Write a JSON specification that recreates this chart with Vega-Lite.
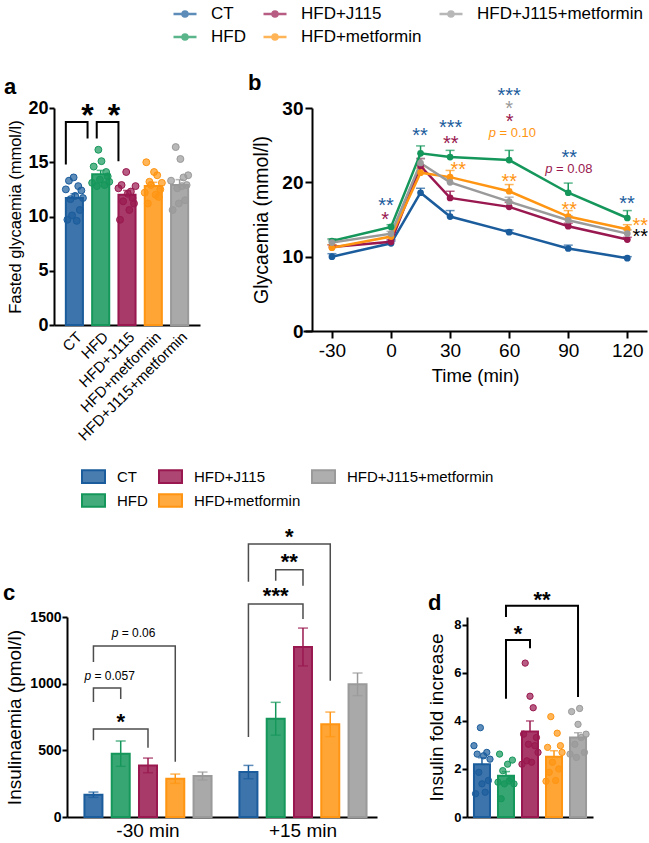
{
  "$schema": "https://vega.github.io/schema/vega-lite/v6.json",
  "padding": {"left": 3, "top": 1, "right": 1, "bottom": 1},
  "config": {
    "font": "Liberation Sans",
    "view": {"stroke": null},
    "axis": {"grid": false, "domainColor": "black", "domainWidth": 2, "tickColor": "black", "tickWidth": 2, "tickSize": 5, "labelPadding": 1, "labelColor": "black", "titleColor": "black", "labelFont": "Liberation Sans", "titleFont": "Liberation Sans", "titleFontWeight": "normal"},
    "legend": {"labelFont": "Liberation Sans", "labelColor": "black"},
    "title": {"fontSize": 22, "fontWeight": "bold", "anchor": "start", "color": "black", "font": "Liberation Sans", "frame": "group"}
  },
  "datasets": {
    "aBar": [
      {"g": "CT", "mean": 11.7, "hi": 12.1},
      {"g": "HFD", "mean": 13.9, "hi": 14.25},
      {"g": "HFD+J115", "mean": 12.0, "hi": 12.4},
      {"g": "HFD+metformin", "mean": 12.8, "hi": 13.15},
      {"g": "HFD+J115+metformin", "mean": 12.9, "hi": 13.4}
    ],
    "aDots": [
      {"g": "CT", "r": 1, "v": 12.5}, {"g": "CT", "r": 2, "v": 9.7}, {"g": "CT", "r": 3, "v": 13.3}, {"g": "CT", "r": 4, "v": 11.6}, {"g": "CT", "r": 5, "v": 10.1}, {"g": "CT", "r": 6, "v": 13.6}, {"g": "CT", "r": 7, "v": 11.9}, {"g": "CT", "r": 8, "v": 9.6}, {"g": "CT", "r": 9, "v": 12.8}, {"g": "CT", "r": 10, "v": 10.6}, {"g": "CT", "r": 11, "v": 12.4}, {"g": "CT", "r": 12, "v": 11.7},
      {"g": "HFD", "r": 1, "v": 13.1}, {"g": "HFD", "r": 2, "v": 14.6}, {"g": "HFD", "r": 4, "v": 12.8}, {"g": "HFD", "r": 5, "v": 16.15}, {"g": "HFD", "r": 6, "v": 13.4}, {"g": "HFD", "r": 7, "v": 15.1}, {"g": "HFD", "r": 9, "v": 12.9}, {"g": "HFD", "r": 10, "v": 14.1}, {"g": "HFD", "r": 11, "v": 13.7}, {"g": "HFD", "r": 12, "v": 13.2},
      {"g": "HFD+J115", "r": 1, "v": 12.6}, {"g": "HFD+J115", "r": 2, "v": 9.7}, {"g": "HFD+J115", "r": 3, "v": 12.9}, {"g": "HFD+J115", "r": 4, "v": 11.4}, {"g": "HFD+J115", "r": 6, "v": 14.1}, {"g": "HFD+J115", "r": 7, "v": 12.1}, {"g": "HFD+J115", "r": 8, "v": 10.6}, {"g": "HFD+J115", "r": 9, "v": 12.3}, {"g": "HFD+J115", "r": 10, "v": 11.7}, {"g": "HFD+J115", "r": 11, "v": 11.2}, {"g": "HFD+J115", "r": 12, "v": 12.8},
      {"g": "HFD+metformin", "r": 1, "v": 12.2}, {"g": "HFD+metformin", "r": 2, "v": 15.0}, {"g": "HFD+metformin", "r": 3, "v": 11.2}, {"g": "HFD+metformin", "r": 4, "v": 13.2}, {"g": "HFD+metformin", "r": 5, "v": 12.9}, {"g": "HFD+metformin", "r": 7, "v": 14.1}, {"g": "HFD+metformin", "r": 8, "v": 12.0}, {"g": "HFD+metformin", "r": 9, "v": 13.8}, {"g": "HFD+metformin", "r": 10, "v": 11.8}, {"g": "HFD+metformin", "r": 11, "v": 12.5}, {"g": "HFD+metformin", "r": 12, "v": 13.1},
      {"g": "HFD+J115+metformin", "r": 1, "v": 13.3}, {"g": "HFD+J115+metformin", "r": 2, "v": 10.6}, {"g": "HFD+J115+metformin", "r": 4, "v": 16.4}, {"g": "HFD+J115+metformin", "r": 5, "v": 12.6}, {"g": "HFD+J115+metformin", "r": 6, "v": 11.2}, {"g": "HFD+J115+metformin", "r": 7, "v": 15.3}, {"g": "HFD+J115+metformin", "r": 8, "v": 12.8}, {"g": "HFD+J115+metformin", "r": 9, "v": 13.6}, {"g": "HFD+J115+metformin", "r": 10, "v": 11.5}, {"g": "HFD+J115+metformin", "r": 11, "v": 12.9}, {"g": "HFD+J115+metformin", "r": 12, "v": 13.8}
    ],
    "bPts": [
      {"g": "CT", "t": -30, "v": 10.0, "hi": 10.4}, {"g": "CT", "t": 0, "v": 11.8, "hi": 12.1}, {"g": "CT", "t": 15, "v": 18.6, "hi": 19.2}, {"g": "CT", "t": 30, "v": 15.4, "hi": 16.2}, {"g": "CT", "t": 60, "v": 13.3, "hi": 13.6}, {"g": "CT", "t": 90, "v": 11.1, "hi": 11.55}, {"g": "CT", "t": 120, "v": 9.8, "hi": 10.0},
      {"g": "HFD", "t": -30, "v": 12.1, "hi": 12.4}, {"g": "HFD", "t": 0, "v": 14.0, "hi": 14.3}, {"g": "HFD", "t": 15, "v": 23.9, "hi": 24.9}, {"g": "HFD", "t": 30, "v": 23.4, "hi": 24.3}, {"g": "HFD", "t": 60, "v": 23.0, "hi": 24.3}, {"g": "HFD", "t": 90, "v": 18.6, "hi": 19.9}, {"g": "HFD", "t": 120, "v": 15.2, "hi": 16.2},
      {"g": "HFD+J115", "t": -30, "v": 11.3, "hi": 11.6}, {"g": "HFD+J115", "t": 0, "v": 12.0, "hi": 12.3}, {"g": "HFD+J115", "t": 15, "v": 22.2, "hi": 23.2}, {"g": "HFD+J115", "t": 30, "v": 17.9, "hi": 18.8}, {"g": "HFD+J115", "t": 60, "v": 16.7, "hi": 17.3}, {"g": "HFD+J115", "t": 90, "v": 14.1, "hi": 14.5}, {"g": "HFD+J115", "t": 120, "v": 12.3, "hi": 12.6},
      {"g": "HFD+metformin", "t": -30, "v": 11.2, "hi": 11.6}, {"g": "HFD+metformin", "t": 0, "v": 12.7, "hi": 13.0}, {"g": "HFD+metformin", "t": 15, "v": 21.3, "hi": 21.9}, {"g": "HFD+metformin", "t": 30, "v": 20.7, "hi": 21.6}, {"g": "HFD+metformin", "t": 60, "v": 18.8, "hi": 19.7}, {"g": "HFD+metformin", "t": 90, "v": 15.4, "hi": 16.2}, {"g": "HFD+metformin", "t": 120, "v": 13.7, "hi": 14.3},
      {"g": "HFD+J115+metformin", "t": -30, "v": 11.9, "hi": 12.3}, {"g": "HFD+J115+metformin", "t": 0, "v": 13.1, "hi": 13.4}, {"g": "HFD+J115+metformin", "t": 15, "v": 22.6, "hi": 23.2}, {"g": "HFD+J115+metformin", "t": 30, "v": 20.0, "hi": 20.6}, {"g": "HFD+J115+metformin", "t": 60, "v": 17.4, "hi": 18.0}, {"g": "HFD+J115+metformin", "t": 90, "v": 14.9, "hi": 15.5}, {"g": "HFD+J115+metformin", "t": 120, "v": 13.1, "hi": 13.6}
    ],
    "cBar": [
      {"time": "-30 min", "g": "CT", "mean": 167, "lo": 147, "hi": 187},
      {"time": "-30 min", "g": "HFD", "mean": 475, "lo": 380, "hi": 570},
      {"time": "-30 min", "g": "HFD+J115", "mean": 387, "lo": 332, "hi": 442},
      {"time": "-30 min", "g": "HFD+metformin", "mean": 287, "lo": 252, "hi": 322},
      {"time": "-30 min", "g": "HFD+J115+metformin", "mean": 307, "lo": 277, "hi": 337},
      {"time": "+15 min", "g": "CT", "mean": 337, "lo": 287, "hi": 387},
      {"time": "+15 min", "g": "HFD", "mean": 737, "lo": 614, "hi": 860},
      {"time": "+15 min", "g": "HFD+J115", "mean": 1275, "lo": 1133, "hi": 1417},
      {"time": "+15 min", "g": "HFD+metformin", "mean": 695, "lo": 603, "hi": 787},
      {"time": "+15 min", "g": "HFD+J115+metformin", "mean": 995, "lo": 910, "hi": 1080}
    ],
    "dBar": [
      {"g": "CT", "mean": 2.2, "hi": 2.47},
      {"g": "HFD", "mean": 1.72, "hi": 1.89},
      {"g": "HFD+J115", "mean": 3.56, "hi": 4.0},
      {"g": "HFD+metformin", "mean": 2.51, "hi": 2.76},
      {"g": "HFD+J115+metformin", "mean": 3.31, "hi": 3.51}
    ],
    "dDots": [
      {"g": "CT", "r": 1, "v": 2.97}, {"g": "CT", "r": 2, "v": 0.97}, {"g": "CT", "r": 3, "v": 2.62}, {"g": "CT", "r": 4, "v": 1.86}, {"g": "CT", "r": 5, "v": 3.72}, {"g": "CT", "r": 6, "v": 1.38}, {"g": "CT", "r": 7, "v": 2.55}, {"g": "CT", "r": 8, "v": 1.03}, {"g": "CT", "r": 9, "v": 2.69}, {"g": "CT", "r": 10, "v": 1.52}, {"g": "CT", "r": 11, "v": 2.41},
      {"g": "HFD", "r": 1, "v": 1.45}, {"g": "HFD", "r": 2, "v": 2.62}, {"g": "HFD", "r": 3, "v": 0.76}, {"g": "HFD", "r": 4, "v": 1.93}, {"g": "HFD", "r": 5, "v": 1.38}, {"g": "HFD", "r": 7, "v": 2.2}, {"g": "HFD", "r": 8, "v": 1.5}, {"g": "HFD", "r": 9, "v": 1.59}, {"g": "HFD", "r": 10, "v": 2.37}, {"g": "HFD", "r": 11, "v": 1.38},
      {"g": "HFD+J115", "r": 1, "v": 2.2}, {"g": "HFD+J115", "r": 2, "v": 3.45}, {"g": "HFD+J115", "r": 3, "v": 6.41}, {"g": "HFD+J115", "r": 4, "v": 2.34}, {"g": "HFD+J115", "r": 5, "v": 3.03}, {"g": "HFD+J115", "r": 6, "v": 5.03}, {"g": "HFD+J115", "r": 7, "v": 2.28}, {"g": "HFD+J115", "r": 8, "v": 4.55}, {"g": "HFD+J115", "r": 9, "v": 2.97}, {"g": "HFD+J115", "r": 10, "v": 3.31}, {"g": "HFD+J115", "r": 11, "v": 2.69},
      {"g": "HFD+metformin", "r": 1, "v": 1.49}, {"g": "HFD+metformin", "r": 2, "v": 2.9}, {"g": "HFD+metformin", "r": 3, "v": 1.86}, {"g": "HFD+metformin", "r": 4, "v": 4.18}, {"g": "HFD+metformin", "r": 5, "v": 2.28}, {"g": "HFD+metformin", "r": 7, "v": 1.52}, {"g": "HFD+metformin", "r": 8, "v": 3.49}, {"g": "HFD+metformin", "r": 9, "v": 2.0}, {"g": "HFD+metformin", "r": 10, "v": 2.97}, {"g": "HFD+metformin", "r": 11, "v": 2.69},
      {"g": "HFD+J115+metformin", "r": 1, "v": 2.62}, {"g": "HFD+J115+metformin", "r": 2, "v": 4.39}, {"g": "HFD+J115+metformin", "r": 4, "v": 3.03}, {"g": "HFD+J115+metformin", "r": 5, "v": 2.48}, {"g": "HFD+J115+metformin", "r": 6, "v": 3.86}, {"g": "HFD+J115+metformin", "r": 7, "v": 4.52}, {"g": "HFD+J115+metformin", "r": 8, "v": 3.31}, {"g": "HFD+J115+metformin", "r": 10, "v": 2.69}, {"g": "HFD+J115+metformin", "r": 11, "v": 3.45}
    ]
  },
  "resolve": {"scale": {"fill": "independent", "stroke": "independent", "color": "independent", "xOffset": "independent"}, "legend": {"fill": "independent", "stroke": "independent", "color": "independent"}},
  "align": "none",
  "spacing": 20,
  "vconcat": [
    {
      "bounds": "flush",
      "spacing": 103,
      "resolve": {"scale": {"fill": "independent", "stroke": "independent", "color": "independent", "xOffset": "independent"}, "legend": {"fill": "independent", "stroke": "independent", "color": "independent"}},
      "hconcat": [
        {
          "width": 146, "height": 217,
          "title": {"text": "a", "dx": -50, "dy": 4},
          "resolve": {"scale": {"xOffset": "independent"}},
          "layer": [
            {
              "data": {"name": "aBar"},
              "mark": {"type": "bar", "fillOpacity": 0.85, "strokeWidth": 2},
              "encoding": {
                "x": {"field": "g", "type": "nominal", "sort": ["CT", "HFD", "HFD+J115", "HFD+metformin", "HFD+J115+metformin"], "scale": {"paddingInner": 0.35, "paddingOuter": 0.45}, "axis": {"title": null, "labelAngle": -45, "labelFontSize": 15, "ticks": false, "labelPadding": 4}},
                "y": {"field": "mean", "type": "quantitative", "scale": {"domain": [0, 20], "nice": false}, "axis": {"values": [0, 5, 10, 15, 20], "title": "Fasted glycaemia (mmol/l)", "titleFontSize": 16.5, "labelFontSize": 18, "labelFontWeight": "bold", "titlePadding": 4}},
                "fill": {"field": "g", "type": "nominal", "scale": {"domain": ["CT", "HFD+J115", "HFD+J115+metformin", "HFD", "HFD+metformin"], "range": ["#1B5C9C", "#99184F", "#9A9A9A", "#15975B", "#FF9512"]}, "legend": null},
                "stroke": {"field": "g", "type": "nominal", "scale": {"domain": ["CT", "HFD+J115", "HFD+J115+metformin", "HFD", "HFD+metformin"], "range": ["#1B5C9C", "#99184F", "#9A9A9A", "#15975B", "#FF9512"]}, "legend": null}
              }
            },
            {
              "data": {"name": "aBar"},
              "mark": {"type": "rule", "strokeWidth": 1.5},
              "encoding": {
                "x": {"field": "g", "type": "nominal", "sort": ["CT", "HFD", "HFD+J115", "HFD+metformin", "HFD+J115+metformin"]},
                "y": {"field": "mean", "type": "quantitative"},
                "y2": {"field": "hi"},
                "stroke": {"field": "g", "type": "nominal", "legend": null}
              }
            },
            {
              "data": {"name": "aBar"},
              "mark": {"type": "tick", "orient": "horizontal", "size": 8, "thickness": 1.5},
              "encoding": {
                "x": {"field": "g", "type": "nominal", "sort": ["CT", "HFD", "HFD+J115", "HFD+metformin", "HFD+J115+metformin"]},
                "y": {"field": "hi", "type": "quantitative"},
                "fill": {"field": "g", "type": "nominal", "legend": null}
              }
            },
            {
              "data": {"name": "aDots"},
              "mark": {"type": "point", "filled": true, "size": 48, "fillOpacity": 0.7, "strokeWidth": 1, "strokeOpacity": 1},
              "encoding": {
                "x": {"field": "g", "type": "nominal", "sort": ["CT", "HFD", "HFD+J115", "HFD+metformin", "HFD+J115+metformin"]},
                "xOffset": {"field": "r", "type": "ordinal", "scale": {"domain": [1, 2, 3, 4, 5, 6, 7, 8, 9, 10, 11, 12], "paddingInner": 0, "paddingOuter": 0}},
                "y": {"field": "v", "type": "quantitative"},
                "fill": {"field": "g", "type": "nominal", "legend": null},
                "stroke": {"field": "g", "type": "nominal", "legend": null}
              }
            },
            {
              "data": {"values": [
                {"id": 1, "i": 0, "g": "CT", "off": 0, "v": 14.8}, {"id": 1, "i": 1, "g": "CT", "off": 0, "v": 18.7}, {"id": 1, "i": 2, "g": "HFD", "off": -0.17, "v": 18.7}, {"id": 1, "i": 3, "g": "HFD", "off": -0.17, "v": 17.2},
                {"id": 2, "i": 0, "g": "HFD", "off": 0.17, "v": 17.2}, {"id": 2, "i": 1, "g": "HFD", "off": 0.17, "v": 18.7}, {"id": 2, "i": 2, "g": "HFD+J115", "off": 0, "v": 18.7}, {"id": 2, "i": 3, "g": "HFD+J115", "off": 0, "v": 15.1}
              ]},
              "mark": {"type": "line", "strokeWidth": 2, "color": "black"},
              "encoding": {
                "x": {"field": "g", "type": "nominal", "sort": ["CT", "HFD", "HFD+J115", "HFD+metformin", "HFD+J115+metformin"]},
                "xOffset": {"field": "off", "type": "quantitative", "scale": {"domain": [-1, 1], "range": [-27, 27]}},
                "y": {"field": "v", "type": "quantitative"},
                "detail": {"field": "id"},
                "order": {"field": "i"}
              }
            },
            {
              "data": {"values": [{"g": "CT", "v": 20.1, "lbl": "*"}, {"g": "HFD", "v": 20.1, "lbl": "*"}]},
              "mark": {"type": "text", "fontSize": 32, "fontWeight": "bold", "dx": 13.2, "dy": 9, "baseline": "middle", "color": "black"},
              "encoding": {
                "x": {"field": "g", "type": "nominal", "sort": ["CT", "HFD", "HFD+J115", "HFD+metformin", "HFD+J115+metformin"]},
                "y": {"field": "v", "type": "quantitative"},
                "text": {"field": "lbl"}
              }
            }
          ]
        },
        {
          "width": 344, "height": 223,
          "title": {"text": "b", "dx": -55, "dy": 98},
          "layer": [
            {
              "data": {"name": "bPts"},
              "mark": {"type": "rule", "strokeWidth": 1.5},
              "encoding": {
                "x": {"field": "t", "type": "quantitative", "scale": {"domain": [-44.7, 130], "nice": false}, "axis": {"values": [-30, -15, 0, 15, 30, 45, 60, 75, 90, 105, 120], "labelExpr": "(datum.value == -15 || datum.value == 45 || datum.value == 75 || datum.value == 105) ? '' : '' + datum.value", "labelFontSize": 19, "labelPadding": 3, "title": "Time (min)", "titleFontSize": 18.5, "titlePadding": 6, "tickSize": 7}},
                "y": {"field": "v", "type": "quantitative", "scale": {"domain": [0, 30], "nice": false}, "axis": {"offset": -9, "values": [0, 10, 20, 30], "labelFontSize": 19, "labelFontWeight": "bold", "title": "Glycaemia (mmol/l)", "titleFontSize": 19.5, "titlePadding": 10, "tickSize": 7, "labelPadding": 2}},
                "y2": {"field": "hi"},
                "stroke": {"field": "g", "type": "nominal", "scale": {"domain": ["CT", "HFD+J115", "HFD+J115+metformin", "HFD", "HFD+metformin"], "range": ["#1B5C9C", "#99184F", "#9A9A9A", "#15975B", "#FF9512"]}}
              }
            },
            {
              "data": {"name": "bPts"},
              "mark": {"type": "tick", "orient": "horizontal", "size": 9, "thickness": 1.5},
              "encoding": {
                "x": {"field": "t", "type": "quantitative"},
                "y": {"field": "hi", "type": "quantitative"},
                "fill": {"field": "g", "type": "nominal", "scale": {"domain": ["CT", "HFD+J115", "HFD+J115+metformin", "HFD", "HFD+metformin"], "range": ["#1B5C9C", "#99184F", "#9A9A9A", "#15975B", "#FF9512"]}}
              }
            },
            {
              "data": {"name": "bPts"},
              "mark": {"type": "line", "strokeWidth": 2.5},
              "encoding": {
                "x": {"field": "t", "type": "quantitative"},
                "y": {"field": "v", "type": "quantitative"},
                "stroke": {"field": "g", "type": "nominal", "legend": {"orient": "none", "legendX": -131, "legendY": -107, "direction": "horizontal", "columns": 3, "title": null, "symbolType": "M-1,0H1M-0.22,0A0.22,0.22,0,1,0,0.22,0A0.22,0.22,0,1,0,-0.22,0Z", "symbolSize": 529, "symbolStrokeWidth": 2.5, "labelFontSize": 17, "labelOffset": 13, "columnPadding": 12, "rowPadding": 2, "gridAlign": "each", "padding": 0, "labelLimit": 300}}
              }
            },
            {
              "data": {"name": "bPts"},
              "mark": {"type": "point", "filled": true, "size": 45, "opacity": 1},
              "encoding": {
                "x": {"field": "t", "type": "quantitative"},
                "y": {"field": "v", "type": "quantitative"},
                "fill": {"field": "g", "type": "nominal", "legend": {"orient": "none", "legendX": -131, "legendY": -107, "direction": "horizontal", "columns": 3, "title": null, "symbolType": "M-1,0H1M-0.22,0A0.22,0.22,0,1,0,0.22,0A0.22,0.22,0,1,0,-0.22,0Z", "symbolSize": 529, "symbolStrokeWidth": 2.5, "labelFontSize": 17, "labelOffset": 13, "columnPadding": 12, "rowPadding": 2, "gridAlign": "each", "padding": 0, "labelLimit": 300}}
              }
            },
            {
              "data": {"values": [
                {"t": -2.5, "v": 17.4, "lbl": "**", "grp": "CT"},
                {"t": -3, "v": 15.6, "lbl": "*", "grp": "HFD+J115"},
                {"t": 14.7, "v": 26.9, "lbl": "**", "grp": "CT"},
                {"t": 30.3, "v": 27.9, "lbl": "***", "grp": "CT"},
                {"t": 30.3, "v": 25.8, "lbl": "**", "grp": "HFD+J115"},
                {"t": 34.2, "v": 22.3, "lbl": "**", "grp": "HFD+metformin"},
                {"t": 60, "v": 32.3, "lbl": "***", "grp": "CT"},
                {"t": 60, "v": 30.5, "lbl": "*", "grp": "HFD+J115+metformin"},
                {"t": 60.3, "v": 28.7, "lbl": "*", "grp": "HFD+J115"},
                {"t": 60, "v": 20.7, "lbl": "**", "grp": "HFD+metformin"},
                {"t": 90.5, "v": 23.9, "lbl": "**", "grp": "CT"},
                {"t": 90.5, "v": 16.9, "lbl": "**", "grp": "HFD+metformin"},
                {"t": 119.8, "v": 17.7, "lbl": "**", "grp": "CT"},
                {"t": 126.6, "v": 14.7, "lbl": "**", "grp": "HFD+metformin"},
                {"t": 126.6, "v": 13.2, "lbl": "**", "grp": "other"}
              ]},
              "mark": {"type": "text", "fontSize": 20, "dy": 4.6, "baseline": "middle"},
              "encoding": {
                "x": {"field": "t", "type": "quantitative"},
                "y": {"field": "v", "type": "quantitative"},
                "text": {"field": "lbl"},
                "color": {"field": "grp", "type": "nominal", "scale": {"domain": ["CT", "HFD+J115", "HFD+metformin", "HFD+J115+metformin", "other"], "range": ["#1B5C9C", "#99184F", "#FF9512", "#9A9A9A", "#000000"]}, "legend": null}
              }
            },
            {
              "data": {"values": [
                {"t": 61.4, "v": 26.6, "lbl": "p", "grp": "HFD+metformin"},
                {"t": 90.1, "v": 21.8, "lbl": "p", "grp": "HFD+J115"}
              ]},
              "mark": {"type": "text", "fontSize": 13, "fontStyle": "italic", "align": "right", "dx": -16, "baseline": "middle"},
              "encoding": {
                "x": {"field": "t", "type": "quantitative"},
                "y": {"field": "v", "type": "quantitative"},
                "text": {"field": "lbl"},
                "color": {"field": "grp", "type": "nominal", "legend": null}
              }
            },
            {
              "data": {"values": [
                {"t": 61.4, "v": 26.6, "lbl": "= 0.10", "grp": "HFD+metformin"},
                {"t": 90.1, "v": 21.8, "lbl": "= 0.08", "grp": "HFD+J115"}
              ]},
              "mark": {"type": "text", "fontSize": 13, "align": "left", "dx": -12.4, "baseline": "middle"},
              "encoding": {
                "x": {"field": "t", "type": "quantitative"},
                "y": {"field": "v", "type": "quantitative"},
                "text": {"field": "lbl"},
                "color": {"field": "grp", "type": "nominal", "legend": null}
              }
            }
          ]
        }
      ]
    },
    {
      "bounds": "flush",
      "spacing": 90,
      "resolve": {"scale": {"fill": "independent", "stroke": "independent", "color": "independent", "xOffset": "independent"}, "legend": {"fill": "independent", "stroke": "independent", "color": "independent"}},
      "hconcat": [
        {
          "width": 323, "height": 200,
          "title": {"text": "c", "dx": -51, "dy": 145},
          "layer": [
            {
              "data": {"name": "cBar"},
              "mark": {"type": "rule", "strokeWidth": 1.5},
              "encoding": {
                "x": {"field": "time", "type": "nominal", "sort": ["-30 min", "+15 min"], "scale": {"paddingInner": 0.12, "paddingOuter": 0.102, "align": 0.816}, "axis": {"title": null, "labelAngle": 0, "labelFontSize": 19, "ticks": false, "labelPadding": 4, "domainDash": [0, 13, 400]}},
                "xOffset": {"field": "g", "type": "nominal", "sort": ["CT", "HFD", "HFD+J115", "HFD+metformin", "HFD+J115+metformin"], "scale": {"paddingInner": 0.34, "paddingOuter": 0.17}},
                "y": {"field": "lo", "type": "quantitative", "scale": {"domain": [0, 1500], "nice": false}, "axis": {"offset": -13, "values": [0, 500, 1000, 1500], "labelExpr": "'' + datum.value", "title": "Insulinaemia (pmol/l)", "titleFontSize": 19, "labelFontSize": 14, "labelFontWeight": "bold", "titlePadding": 5}},
                "y2": {"field": "hi"},
                "stroke": {"field": "g", "type": "nominal", "scale": {"domain": ["CT", "HFD+J115", "HFD+J115+metformin", "HFD", "HFD+metformin"], "range": ["#1B5C9C", "#99184F", "#9A9A9A", "#15975B", "#FF9512"]}}
              }
            },
            {
              "data": {"name": "cBar"},
              "mark": {"type": "tick", "orient": "horizontal", "size": 10, "thickness": 1.5},
              "encoding": {
                "x": {"field": "time", "type": "nominal", "sort": ["-30 min", "+15 min"]},
                "xOffset": {"field": "g", "type": "nominal", "sort": ["CT", "HFD", "HFD+J115", "HFD+metformin", "HFD+J115+metformin"]},
                "y": {"field": "hi", "type": "quantitative"},
                "fill": {"field": "g", "type": "nominal", "scale": {"domain": ["CT", "HFD+J115", "HFD+J115+metformin", "HFD", "HFD+metformin"], "range": ["#1B5C9C", "#99184F", "#9A9A9A", "#15975B", "#FF9512"]}}
              }
            },
            {
              "data": {"name": "cBar"},
              "mark": {"type": "tick", "orient": "horizontal", "size": 10, "thickness": 1.5},
              "encoding": {
                "x": {"field": "time", "type": "nominal", "sort": ["-30 min", "+15 min"]},
                "xOffset": {"field": "g", "type": "nominal", "sort": ["CT", "HFD", "HFD+J115", "HFD+metformin", "HFD+J115+metformin"]},
                "y": {"field": "lo", "type": "quantitative"},
                "fill": {"field": "g", "type": "nominal"}
              }
            },
            {
              "data": {"name": "cBar"},
              "mark": {"type": "bar", "fillOpacity": 0.85, "strokeWidth": 2},
              "encoding": {
                "x": {"field": "time", "type": "nominal", "sort": ["-30 min", "+15 min"]},
                "xOffset": {"field": "g", "type": "nominal", "sort": ["CT", "HFD", "HFD+J115", "HFD+metformin", "HFD+J115+metformin"]},
                "y": {"field": "mean", "type": "quantitative"},
                "fill": {"field": "g", "type": "nominal", "legend": {"orient": "none", "legendX": 27, "legendY": -153, "direction": "horizontal", "columns": 3, "title": null, "symbolType": "M-1,-0.55H1V0.55H-1Z", "symbolSize": 529, "symbolStrokeWidth": 2, "labelFontSize": 15, "labelOffset": 11, "columnPadding": 7, "rowPadding": 1, "gridAlign": "each", "padding": 0, "labelLimit": 300, "encode": {"symbols": {"update": {"fillOpacity": {"value": 0.8}}}}}},
                "stroke": {"field": "g", "type": "nominal", "legend": {"orient": "none", "legendX": 27, "legendY": -153, "direction": "horizontal", "columns": 3, "title": null, "symbolType": "M-1,-0.55H1V0.55H-1Z", "symbolSize": 529, "symbolStrokeWidth": 2, "labelFontSize": 15, "labelOffset": 11, "columnPadding": 7, "rowPadding": 1, "gridAlign": "each", "padding": 0, "labelLimit": 300}}
              }
            },
            {
              "data": {"values": [
                {"id": 1, "i": 0, "time": "-30 min", "g": "CT", "v": 575}, {"id": 1, "i": 1, "time": "-30 min", "g": "CT", "v": 660}, {"id": 1, "i": 2, "time": "-30 min", "g": "HFD+J115", "v": 660}, {"id": 1, "i": 3, "time": "-30 min", "g": "HFD+J115", "v": 520},
                {"id": 2, "i": 0, "time": "-30 min", "g": "CT", "v": 862}, {"id": 2, "i": 1, "time": "-30 min", "g": "CT", "v": 967}, {"id": 2, "i": 2, "time": "-30 min", "g": "HFD", "v": 967}, {"id": 2, "i": 3, "time": "-30 min", "g": "HFD", "v": 885},
                {"id": 3, "i": 0, "time": "-30 min", "g": "CT", "v": 1162}, {"id": 3, "i": 1, "time": "-30 min", "g": "CT", "v": 1282}, {"id": 3, "i": 2, "time": "-30 min", "g": "HFD+metformin", "v": 1282}, {"id": 3, "i": 3, "time": "-30 min", "g": "HFD+metformin", "v": 415},
                {"id": 4, "i": 0, "time": "+15 min", "g": "CT", "v": 600}, {"id": 4, "i": 1, "time": "+15 min", "g": "CT", "v": 1597}, {"id": 4, "i": 2, "time": "+15 min", "g": "HFD+J115", "v": 1597}, {"id": 4, "i": 3, "time": "+15 min", "g": "HFD+J115", "v": 1485},
                {"id": 5, "i": 0, "time": "+15 min", "g": "HFD", "v": 1772}, {"id": 5, "i": 1, "time": "+15 min", "g": "HFD", "v": 1855}, {"id": 5, "i": 2, "time": "+15 min", "g": "HFD+J115", "v": 1855}, {"id": 5, "i": 3, "time": "+15 min", "g": "HFD+J115", "v": 1735},
                {"id": 6, "i": 0, "time": "+15 min", "g": "CT", "v": 1765}, {"id": 6, "i": 1, "time": "+15 min", "g": "CT", "v": 2047}, {"id": 6, "i": 2, "time": "+15 min", "g": "HFD+metformin", "v": 2047}, {"id": 6, "i": 3, "time": "+15 min", "g": "HFD+metformin", "v": 1022}
              ]},
              "mark": {"type": "line", "strokeWidth": 1.5, "color": "#4d4d4d"},
              "encoding": {
                "x": {"field": "time", "type": "nominal", "sort": ["-30 min", "+15 min"]},
                "xOffset": {"field": "g", "type": "nominal", "sort": ["CT", "HFD", "HFD+J115", "HFD+metformin", "HFD+J115+metformin"]},
                "y": {"field": "v", "type": "quantitative"},
                "detail": {"field": "id"},
                "order": {"field": "i"}
              }
            },
            {
              "data": {"values": [
                {"time": "-30 min", "g": "HFD", "v": 750, "lbl": "*"},
                {"time": "+15 min", "g": "HFD", "v": 1697, "lbl": "***"}
              ]},
              "mark": {"type": "text", "fontSize": 22, "fontWeight": "bold", "dy": 5, "baseline": "middle", "color": "black"},
              "encoding": {
                "x": {"field": "time", "type": "nominal", "sort": ["-30 min", "+15 min"]},
                "xOffset": {"field": "g", "type": "nominal", "sort": ["CT", "HFD", "HFD+J115", "HFD+metformin", "HFD+J115+metformin"]},
                "y": {"field": "v", "type": "quantitative"},
                "text": {"field": "lbl"}
              }
            },
            {
              "data": {"values": [
                {"time": "+15 min", "g": "HFD", "v": 1950, "lbl": "**"},
                {"time": "+15 min", "g": "HFD", "v": 2140, "lbl": "*"}
              ]},
              "mark": {"type": "text", "fontSize": 22, "fontWeight": "bold", "dx": 13.6, "dy": 5, "baseline": "middle", "color": "black"},
              "encoding": {
                "x": {"field": "time", "type": "nominal", "sort": ["-30 min", "+15 min"]},
                "xOffset": {"field": "g", "type": "nominal", "sort": ["CT", "HFD", "HFD+J115", "HFD+metformin", "HFD+J115+metformin"]},
                "y": {"field": "v", "type": "quantitative"},
                "text": {"field": "lbl"}
              }
            },
            {
              "data": {"values": [
                {"time": "-30 min", "g": "CT", "v": 1060, "lbl": "p"},
                {"time": "-30 min", "g": "HFD", "v": 1380, "lbl": "p"}
              ]},
              "mark": {"type": "text", "fontSize": 12, "fontStyle": "italic", "align": "left", "dx": -9, "baseline": "middle", "color": "black"},
              "encoding": {
                "x": {"field": "time", "type": "nominal", "sort": ["-30 min", "+15 min"]},
                "xOffset": {"field": "g", "type": "nominal", "sort": ["CT", "HFD", "HFD+J115", "HFD+metformin", "HFD+J115+metformin"]},
                "y": {"field": "v", "type": "quantitative"},
                "text": {"field": "lbl"}
              }
            },
            {
              "data": {"values": [
                {"time": "-30 min", "g": "CT", "v": 1060, "lbl": "= 0.057"},
                {"time": "-30 min", "g": "HFD", "v": 1380, "lbl": "= 0.06"}
              ]},
              "mark": {"type": "text", "fontSize": 12, "align": "left", "dx": 1, "baseline": "middle", "color": "black"},
              "encoding": {
                "x": {"field": "time", "type": "nominal", "sort": ["-30 min", "+15 min"]},
                "xOffset": {"field": "g", "type": "nominal", "sort": ["CT", "HFD", "HFD+J115", "HFD+metformin", "HFD+J115+metformin"]},
                "y": {"field": "v", "type": "quantitative"},
                "text": {"field": "lbl"}
              }
            }
          ]
        },
        {
          "width": 126, "height": 200,
          "title": {"text": "d", "dx": -39, "dy": 30},
          "resolve": {"scale": {"xOffset": "independent"}},
          "layer": [
            {
              "data": {"name": "dBar"},
              "mark": {"type": "bar", "fillOpacity": 0.85, "strokeWidth": 2},
              "encoding": {
                "x": {"field": "g", "type": "nominal", "sort": ["CT", "HFD", "HFD+J115", "HFD+metformin", "HFD+J115+metformin"], "scale": {"paddingInner": 0.333, "paddingOuter": 0.29}, "axis": {"title": null, "labels": false, "ticks": false}},
                "y": {"field": "mean", "type": "quantitative", "scale": {"domain": [0, 8.33], "nice": false}, "axis": {"values": [0, 2, 4, 6, 8], "title": "Insulin fold increase", "titleFontSize": 19, "labelFontSize": 13, "labelFontWeight": "bold", "titlePadding": 7}},
                "fill": {"field": "g", "type": "nominal", "scale": {"domain": ["CT", "HFD+J115", "HFD+J115+metformin", "HFD", "HFD+metformin"], "range": ["#1B5C9C", "#99184F", "#9A9A9A", "#15975B", "#FF9512"]}, "legend": null},
                "stroke": {"field": "g", "type": "nominal", "scale": {"domain": ["CT", "HFD+J115", "HFD+J115+metformin", "HFD", "HFD+metformin"], "range": ["#1B5C9C", "#99184F", "#9A9A9A", "#15975B", "#FF9512"]}, "legend": null}
              }
            },
            {
              "data": {"name": "dBar"},
              "mark": {"type": "rule", "strokeWidth": 1.5},
              "encoding": {
                "x": {"field": "g", "type": "nominal", "sort": ["CT", "HFD", "HFD+J115", "HFD+metformin", "HFD+J115+metformin"]},
                "y": {"field": "mean", "type": "quantitative"},
                "y2": {"field": "hi"},
                "stroke": {"field": "g", "type": "nominal", "legend": null}
              }
            },
            {
              "data": {"name": "dBar"},
              "mark": {"type": "tick", "orient": "horizontal", "size": 8, "thickness": 1.5},
              "encoding": {
                "x": {"field": "g", "type": "nominal", "sort": ["CT", "HFD", "HFD+J115", "HFD+metformin", "HFD+J115+metformin"]},
                "y": {"field": "hi", "type": "quantitative"},
                "fill": {"field": "g", "type": "nominal", "legend": null}
              }
            },
            {
              "data": {"name": "dDots"},
              "mark": {"type": "point", "filled": true, "size": 40, "fillOpacity": 0.7, "strokeWidth": 1, "strokeOpacity": 1},
              "encoding": {
                "x": {"field": "g", "type": "nominal", "sort": ["CT", "HFD", "HFD+J115", "HFD+metformin", "HFD+J115+metformin"]},
                "xOffset": {"field": "r", "type": "ordinal", "scale": {"domain": [1, 2, 3, 4, 5, 6, 7, 8, 9, 10, 11], "paddingInner": 0, "paddingOuter": 0}},
                "y": {"field": "v", "type": "quantitative"},
                "fill": {"field": "g", "type": "nominal", "legend": null},
                "stroke": {"field": "g", "type": "nominal", "legend": null}
              }
            },
            {
              "data": {"values": [
                {"id": 1, "i": 0, "g": "HFD", "v": 4.93}, {"id": 1, "i": 1, "g": "HFD", "v": 7.37}, {"id": 1, "i": 2, "g": "HFD+J115", "v": 7.37}, {"id": 1, "i": 3, "g": "HFD+J115", "v": 7.03},
                {"id": 2, "i": 0, "g": "HFD", "v": 8.33}, {"id": 2, "i": 1, "g": "HFD", "v": 8.8}, {"id": 2, "i": 2, "g": "HFD+J115+metformin", "v": 8.8}, {"id": 2, "i": 3, "g": "HFD+J115+metformin", "v": 5.0}
              ]},
              "mark": {"type": "line", "strokeWidth": 2, "color": "black"},
              "encoding": {
                "x": {"field": "g", "type": "nominal", "sort": ["CT", "HFD", "HFD+J115", "HFD+metformin", "HFD+J115+metformin"]},
                "y": {"field": "v", "type": "quantitative"},
                "detail": {"field": "id"},
                "order": {"field": "i"}
              }
            },
            {
              "data": {"values": [{"g": "HFD", "v": 7.83, "lbl": "*"}, {"g": "HFD+J115", "v": 9.26, "lbl": "**"}]},
              "mark": {"type": "text", "fontSize": 22, "fontWeight": "bold", "dx": 12, "dy": 5, "baseline": "middle", "color": "black"},
              "encoding": {
                "x": {"field": "g", "type": "nominal", "sort": ["CT", "HFD", "HFD+J115", "HFD+metformin", "HFD+J115+metformin"]},
                "y": {"field": "v", "type": "quantitative"},
                "text": {"field": "lbl"}
              }
            }
          ]
        }
      ]
    }
  ]
}
